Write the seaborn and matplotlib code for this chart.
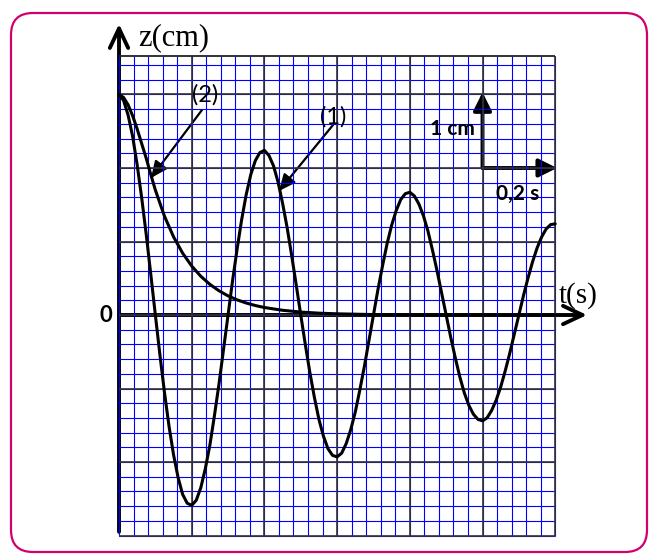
import numpy as np
import matplotlib.pyplot as plt
import seaborn as sns
from matplotlib.patches import FancyArrowPatch, FancyBboxPatch

sns.set_style('white')
plt.rcParams['font.family'] = ['Lato', 'DejaVu Sans']
plt.rcParams['text.color'] = 'black'

# Curve (1): damped oscillation, z in cm every 0.0125 s from 0 to 1.2 s
z1 = [3.00, 2.92, 2.72, 2.43, 2.04, 1.59, 1.09, 0.55,
      0.00, -0.54, -1.05, -1.51, -1.90, -2.21, -2.44, -2.56,
      -2.59, -2.52, -2.35, -2.09, -1.77, -1.37, -0.94, -0.47,
      0.00, 0.47, 0.90, 1.30, 1.64, 1.91, 2.10, 2.21,
      2.24, 2.17, 2.03, 1.81, 1.52, 1.19, 0.81, 0.41,
      0.00, -0.40, -0.78, -1.12, -1.42, -1.65, -1.82, -1.91,
      -1.93, -1.88, -1.75, -1.56, -1.32, -1.02, -0.70, -0.35,
      0.00, 0.35, 0.67, 0.97, 1.22, 1.42, 1.57, 1.65,
      1.67, 1.62, 1.51, 1.35, 1.14, 0.88, 0.60, 0.30,
      0.00, -0.30, -0.58, -0.84, -1.06, -1.23, -1.35, -1.42,
      -1.44, -1.40, -1.30, -1.16, -0.98, -0.76, -0.52, -0.26,
      0.00, 0.26, 0.50, 0.72, 0.91, 1.06, 1.17, 1.23,
      1.24]
t1 = np.linspace(0, 1.2, len(z1))

# Curve (2): aperiodic return to zero
t2 = [0, 0.0125, 0.025, 0.0375, 0.05, 0.0625, 0.075, 0.0875, 0.1,
      0.125, 0.15, 0.175, 0.2, 0.225, 0.25, 0.275, 0.3, 0.325, 0.35,
      0.375, 0.4, 0.45, 0.5, 0.55, 0.6, 0.7, 0.8, 1.0, 1.2]
z2 = [3.00, 2.96, 2.86, 2.71, 2.53, 2.33, 2.13, 1.91, 1.70,
      1.345, 1.064, 0.842, 0.666, 0.527, 0.417, 0.33, 0.26, 0.206, 0.163,
      0.129, 0.102, 0.064, 0.04, 0.025, 0.016, 0.006, 0.002, 0.0, 0.0]

fig = plt.figure(figsize=(6.52, 5.6), dpi=100)
ax = fig.add_axes([0, 0, 1, 1])
ax.set_xlim(-0.3274, 1.4663)
ax.set_ylim(-3.3333, 4.2857)
ax.axis('off')

# rounded frame (pixel coords)
fig.add_artist(FancyBboxPatch((11, 8), 636, 539, boxstyle='round,pad=0,rounding_size=22',
                              transform=None, fc='none', ec='#d1006c', lw=1.6))

# millimetre grid
minor_x = np.arange(0, 1.2001, 0.04)
minor_y = np.arange(-3.0, 3.41, 0.2)
ax.vlines(minor_x, -3.0, 3.52, color='#0000ff', lw=0.8)
ax.hlines(minor_y, 0, 1.2, color='#0000ff', lw=0.8)
ax.vlines(np.arange(0.2, 1.21, 0.2), -3.0, 3.52, color='#333333', lw=1.2)
ax.hlines(np.arange(-3, 4), 0, 1.2, color='#333333', lw=1.2)
ax.hlines(3.52, 0, 1.2, color='#222222', lw=1.3)

sns.lineplot(x=t2, y=z2, ax=ax, color='black', lw=2.2)
sns.lineplot(x=t1, y=z1, ax=ax, color='black', lw=2.2)

# axes with open arrow heads
for p0, p1 in [((0, 0), (1.2875, 0)), ((0, -2.95), (0, 3.96))]:
    ax.add_patch(FancyArrowPatch(p0, p1, arrowstyle='->,head_length=0.7,head_width=0.33',
                                 mutation_scale=20, lw=2.8, color='black',
                                 shrinkA=0, shrinkB=0))

# scale indicator
for p1 in [(1.0, 3.03), (1.205, 2.0)]:
    ax.add_patch(FancyArrowPatch((1.0, 2.0), p1, arrowstyle='-|>,head_length=1.1,head_width=0.55',
                                 mutation_scale=10, lw=2.8, color='black',
                                 shrinkA=0, shrinkB=0))

# leader arrows
ax.add_patch(FancyArrowPatch((0.2283, 2.79), (0.088, 1.864), arrowstyle='-|>,head_length=1.0,head_width=0.45',
                             mutation_scale=10, lw=1.6, color='black', shrinkA=0, shrinkB=0))
ax.add_patch(FancyArrowPatch((0.5887, 2.585), (0.440, 1.687), arrowstyle='-|>,head_length=1.0,head_width=0.45',
                             mutation_scale=10, lw=1.6, color='black', shrinkA=0, shrinkB=0))

ax.text(0.2366, 3.0, '(2)', fontsize=17, ha='center', va='center')
ax.text(0.589, 2.69, '(1)', fontsize=17, ha='center', va='center')
ax.text(-0.0358, -0.01, '0', fontsize=16, fontweight='bold', ha='center', va='center')
ax.text(0.916, 2.53, '1 cm', fontsize=15, fontweight='bold', ha='center', va='center')
ax.text(1.098, 1.646, '0,2 s', fontsize=15, fontweight='bold', ha='center', va='center')
ax.text(0.151, 3.77, 'z(cm)', fontsize=22, family='Liberation Serif', ha='center', va='center')
ax.text(1.263, 0.26, 't(s)', fontsize=21, family='Liberation Serif', ha='center', va='center')

fig.savefig('out.png', dpi=100)
